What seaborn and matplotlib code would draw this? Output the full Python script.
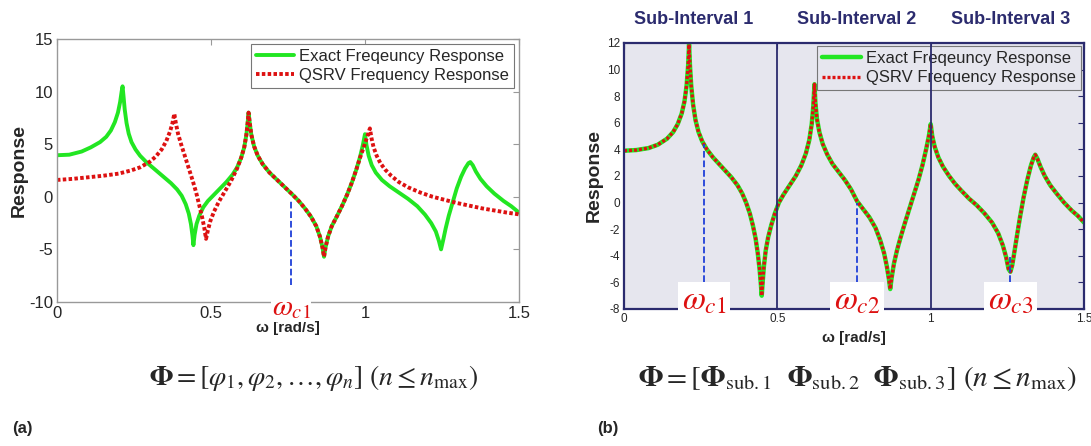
"""Exact vs. QSRV frequency response, single interval (a) and three sub-intervals (b)"""

import matplotlib
matplotlib.use("Agg")
import matplotlib.pyplot as plt
import pandas as pd
import seaborn as sns

# --- values: (omega, response) ---
# (a) exact response
a_exact = [
    (0, 3.95), (0.04, 4.0), (0.08, 4.3), (0.11, 4.7), (0.14, 5.2), (0.16, 5.7),
    (0.175, 6.3), (0.188, 7.1), (0.198, 8.0), (0.205, 9.0), (0.21, 10.0),
    (0.213, 10.5), (0.216, 9.6), (0.22, 8.3), (0.226, 7.0), (0.233, 6.0),
    (0.242, 5.2), (0.255, 4.5), (0.27, 3.9), (0.29, 3.3), (0.31, 2.8),
    (0.33, 2.3), (0.35, 1.8), (0.37, 1.3), (0.39, 0.7), (0.405, 0.1),
    (0.418, -0.7), (0.428, -1.6), (0.435, -2.6), (0.44, -3.7), (0.443, -4.6),
    (0.447, -3.6), (0.453, -2.6), (0.462, -1.8), (0.475, -1.0), (0.49, -0.4),
    (0.51, 0.2), (0.53, 0.8), (0.55, 1.4), (0.57, 2.1), (0.585, 2.8),
    (0.598, 3.7), (0.608, 4.7), (0.615, 5.9), (0.619, 7.0), (0.622, 8.0),
    (0.626, 7.0), (0.631, 5.9), (0.64, 4.8), (0.652, 3.9), (0.668, 3.1),
    (0.69, 2.3), (0.715, 1.6), (0.74, 0.9), (0.765, 0.2), (0.785, -0.4),
    (0.805, -1.1), (0.825, -1.9), (0.842, -2.8), (0.854, -3.8), (0.862, -4.8),
    (0.867, -5.7), (0.872, -4.8), (0.88, -3.8), (0.892, -2.8), (0.908, -1.9),
    (0.925, -0.9), (0.942, 0.2), (0.958, 1.4), (0.972, 2.6), (0.984, 3.8),
    (0.993, 4.9), (1.0, 5.95), (1.005, 4.9), (1.012, 3.9), (1.022, 3.0),
    (1.035, 2.3), (1.055, 1.6), (1.08, 1.0), (1.11, 0.4), (1.14, -0.2),
    (1.17, -0.9), (1.195, -1.7), (1.215, -2.5), (1.23, -3.3), (1.24, -4.2),
    (1.247, -5.0), (1.254, -4.1), (1.262, -3.0), (1.272, -1.8), (1.285, -0.5),
    (1.298, 0.8), (1.312, 1.9), (1.325, 2.7), (1.336, 3.2), (1.342, 3.3),
    (1.35, 3.0), (1.36, 2.4), (1.375, 1.7), (1.395, 1.0), (1.42, 0.3),
    (1.45, -0.4), (1.475, -0.9), (1.5, -1.5),
]

# (a) QSRV response
a_qsrv = [
    (0, 1.6), (0.05, 1.7), (0.1, 1.85), (0.15, 2.0), (0.2, 2.2), (0.24, 2.5),
    (0.27, 2.8), (0.3, 3.3), (0.32, 3.8), (0.34, 4.5), (0.355, 5.3),
    (0.367, 6.2), (0.375, 7.0), (0.381, 7.9), (0.386, 7.0), (0.393, 6.0),
    (0.403, 5.0), (0.415, 3.9), (0.428, 2.7), (0.44, 1.6), (0.452, 0.4),
    (0.462, -0.8), (0.471, -1.9), (0.478, -2.9), (0.484, -4.0), (0.49, -3.2),
    (0.498, -2.3), (0.51, -1.4), (0.525, -0.5), (0.545, 0.5), (0.565, 1.5),
    (0.585, 2.7), (0.598, 3.7), (0.608, 4.7), (0.615, 5.9), (0.619, 7.0),
    (0.622, 8.0), (0.626, 7.0), (0.631, 5.9), (0.64, 4.8), (0.652, 3.9),
    (0.668, 3.1), (0.69, 2.3), (0.715, 1.6), (0.74, 0.9), (0.765, 0.2),
    (0.785, -0.4), (0.805, -1.1), (0.825, -1.9), (0.842, -2.8), (0.854, -3.8),
    (0.862, -4.8), (0.867, -5.7), (0.872, -4.8), (0.88, -3.8), (0.892, -2.8),
    (0.908, -1.9), (0.925, -0.9), (0.942, 0.2), (0.958, 1.4), (0.972, 2.6),
    (0.985, 3.8), (0.997, 4.8), (1.007, 5.7), (1.016, 6.5), (1.021, 5.6),
    (1.028, 4.7), (1.038, 3.9), (1.05, 3.2), (1.065, 2.6), (1.085, 2.0),
    (1.11, 1.4), (1.14, 0.9), (1.18, 0.4), (1.22, 0.0), (1.26, -0.3),
    (1.3, -0.6), (1.34, -0.85), (1.38, -1.1), (1.42, -1.3), (1.46, -1.5),
    (1.5, -1.67),
]

# (b) exact and QSRV coincide
b_resp = [
    (0, 3.9), (0.04, 3.95), (0.08, 4.1), (0.11, 4.35), (0.14, 4.8), (0.16, 5.3),
    (0.175, 5.9), (0.188, 6.7), (0.197, 7.6), (0.204, 8.8), (0.209, 10.3),
    (0.212, 11.9), (0.215, 10.3), (0.219, 8.8), (0.225, 7.4), (0.233, 6.2),
    (0.243, 5.3), (0.255, 4.6), (0.27, 4.0), (0.29, 3.4), (0.31, 2.9),
    (0.33, 2.4), (0.35, 1.9), (0.37, 1.3), (0.385, 0.7), (0.398, 0.0),
    (0.41, -0.8), (0.42, -1.7), (0.429, -2.7), (0.436, -3.8), (0.442, -5.0),
    (0.446, -6.1), (0.449, -7.0), (0.452, -6.0), (0.456, -4.8), (0.462, -3.6),
    (0.47, -2.6), (0.48, -1.7), (0.492, -0.8), (0.505, 0.0), (0.52, 0.6),
    (0.54, 1.3), (0.56, 2.0), (0.578, 2.8), (0.593, 3.7), (0.604, 4.7),
    (0.612, 5.9), (0.617, 7.2), (0.621, 8.9), (0.624, 7.5), (0.629, 6.3),
    (0.637, 5.3), (0.648, 4.4), (0.663, 3.6), (0.68, 2.9), (0.7, 2.3),
    (0.72, 1.7), (0.74, 1.0), (0.76, 0.1), (0.78, -0.5), (0.8, -1.1),
    (0.82, -1.9), (0.835, -2.8), (0.848, -3.8), (0.857, -4.8), (0.864, -5.8),
    (0.868, -6.5), (0.873, -5.6), (0.88, -4.6), (0.89, -3.6), (0.902, -2.6),
    (0.915, -1.6), (0.93, -0.5), (0.945, 0.6), (0.96, 1.7), (0.973, 2.8),
    (0.985, 4.0), (0.994, 5.0), (1.0, 5.9), (1.005, 5.0), (1.013, 4.2),
    (1.025, 3.4), (1.04, 2.7), (1.06, 2.0), (1.08, 1.4), (1.1, 0.9),
    (1.125, 0.3), (1.15, -0.2), (1.175, -0.8), (1.2, -1.5), (1.22, -2.3),
    (1.235, -3.2), (1.246, -4.1), (1.254, -5.0), (1.26, -5.2), (1.266, -4.7),
    (1.273, -3.7), (1.282, -2.4), (1.292, -1.0), (1.303, 0.4), (1.315, 1.7),
    (1.327, 2.8), (1.336, 3.4), (1.341, 3.6), (1.348, 3.3), (1.358, 2.7),
    (1.372, 2.0), (1.39, 1.3), (1.41, 0.7), (1.435, 0.0), (1.46, -0.6),
    (1.48, -1.0), (1.5, -1.5),
]

# cut-off frequencies: position and top of the dashed marker
a_cut_w, a_cut_top = [0.761], [-0.3]
b_cut_w, b_cut_top = [0.26, 0.76, 1.26], [4.4, 0.0, -4.1]
b_sub_labels = ["Sub-Interval 1", "Sub-Interval 2", "Sub-Interval 3"]
b_sub_pos = [0.228, 0.76, 1.26]

df_a_exact = pd.DataFrame(a_exact, columns=["w", "r"])
df_a_qsrv = pd.DataFrame(a_qsrv, columns=["w", "r"])
df_b = pd.DataFrame(b_resp, columns=["w", "r"])

sns.set_style("white")
plt.rcParams["font.family"] = ["Liberation Sans", "DejaVu Sans"]
plt.rcParams["mathtext.fontset"] = "stix"
plt.rcParams["axes.unicode_minus"] = False

GREEN = "#22e622"
RED = "#dd1111"
NAVY = "#2b2b6e"
BLUE = "#1f3fd8"
DOTS = (0, (0.9, 0.6))

fig = plt.figure(figsize=(10.91, 4.46), dpi=100)
ax1 = fig.add_axes([0.0522, 0.3229, 0.4235, 0.5897])
ax2 = fig.add_axes([0.572, 0.3072, 0.4216, 0.5964])

# --- (a) single interval ---
sns.lineplot(data=df_a_exact, x="w", y="r", ax=ax1, color=GREEN, lw=2.8,
             label="Exact Freqeuncy Response", sort=False)
sns.lineplot(data=df_a_qsrv, x="w", y="r", ax=ax1, color=RED, lw=2.8,
             linestyle=DOTS, label="QSRV Frequency Response", sort=False)
ax1.vlines(a_cut_w, -8.4, a_cut_top, colors=BLUE, linestyles="--", lw=1.3)
ax1.text(a_cut_w[0], -10.5, r"$\omega_{c1}$", color=RED, fontsize=21,
         ha="center", va="center", clip_on=False, zorder=10,
         bbox=dict(facecolor="white", edgecolor="none", pad=0.5))
ax1.set_xlim(0, 1.5)
ax1.set_ylim(-10, 15)
ax1.set_xticks([0, 0.5, 1, 1.5], ["0", "0.5", "1", "1.5"])
ax1.set_yticks([-10, -5, 0, 5, 10, 15])
ax1.tick_params(labelsize=12, direction="in", top=True, right=True,
                length=4, color="#999999", pad=3)
for s in ax1.spines.values():
    s.set_color("#999999")
    s.set_linewidth(1.0)
ax1.set_xlabel("ω [rad/s]", fontsize=11, fontweight="bold", labelpad=0)
ax1.set_ylabel("Response", fontsize=14, fontweight="bold", labelpad=1)
leg1 = ax1.legend(loc="upper right", fontsize=12, frameon=True, fancybox=False,
                  edgecolor="#777777", framealpha=1, handlelength=2.3,
                  borderaxespad=0.3, borderpad=0.3, labelspacing=0.25,
                  handletextpad=0.3)
leg1.get_frame().set_linewidth(0.8)

# --- (b) three sub-intervals ---
ax2.set_facecolor("#e6e6ee")
sns.lineplot(data=df_b, x="w", y="r", ax=ax2, color=GREEN, lw=3.2,
             label="Exact Freqeuncy Response", sort=False)
sns.lineplot(data=df_b, x="w", y="r", ax=ax2, color=RED, lw=2.4,
             linestyle=DOTS, label="QSRV Frequency Response", sort=False)
ax2.vlines(b_cut_w, -6.0, b_cut_top, colors=BLUE, linestyles="--", lw=1.3)
for w, n in zip(b_cut_w, ["1", "2", "3"]):
    ax2.text(w, -7.4, r"$\omega_{c" + n + "}$", color=RED, fontsize=24,
             ha="center", va="center", clip_on=False, zorder=10,
             bbox=dict(facecolor="white", edgecolor="none", pad=3))
for xv in [0.5, 1.0]:
    ax2.axvline(xv, color=NAVY, lw=1.3, zorder=6)
for lab, pos in zip(b_sub_labels, b_sub_pos):
    ax2.text(pos, 1.09, lab, transform=ax2.get_xaxis_transform(), ha="center",
             va="center", fontsize=13, fontweight="bold", color=NAVY)
ax2.set_xlim(0, 1.5)
ax2.set_ylim(-8, 12)
ax2.set_xticks([0, 0.5, 1, 1.5], ["0", "0.5", "1", "1.5"])
ax2.set_yticks(range(-8, 13, 2))
ax2.tick_params(labelsize=8.5, direction="in", top=True, right=True,
                length=4, color=NAVY, pad=3)
for s in ax2.spines.values():
    s.set_color(NAVY)
    s.set_linewidth(1.6)
ax2.set_xlabel("ω [rad/s]", fontsize=11, fontweight="bold", labelpad=4)
ax2.set_ylabel("Response", fontsize=14, fontweight="bold", labelpad=3)
leg2 = ax2.legend(loc="upper right", fontsize=12, frameon=True, fancybox=False,
                  edgecolor="#777777", facecolor="#e6e6ee", framealpha=1,
                  handlelength=2.3, borderaxespad=0.2, borderpad=0.3,
                  labelspacing=0.25, handletextpad=0.3)
leg2.get_frame().set_linewidth(0.8)

# --- formulas and panel tags ---
fig.text(0.287, 0.152,
         r"$\mathbf{\Phi}=[\varphi_1,\varphi_2,\ldots,\varphi_n]\ (n\leq n_{\max})$",
         fontsize=20, ha="center", va="center")
fig.text(0.786, 0.152,
         r"$\mathbf{\Phi}=[\mathbf{\Phi}_{\rm sub.1}\ \ \mathbf{\Phi}_{\rm sub.2}\ \ "
         r"\mathbf{\Phi}_{\rm sub.3}]\ (n\leq n_{\max})$",
         fontsize=21, ha="center", va="center")
fig.text(0.011, 0.03, "(a)", fontsize=12, fontweight="bold")
fig.text(0.547, 0.03, "(b)", fontsize=12, fontweight="bold")

plt.savefig("out.png", dpi=100)
